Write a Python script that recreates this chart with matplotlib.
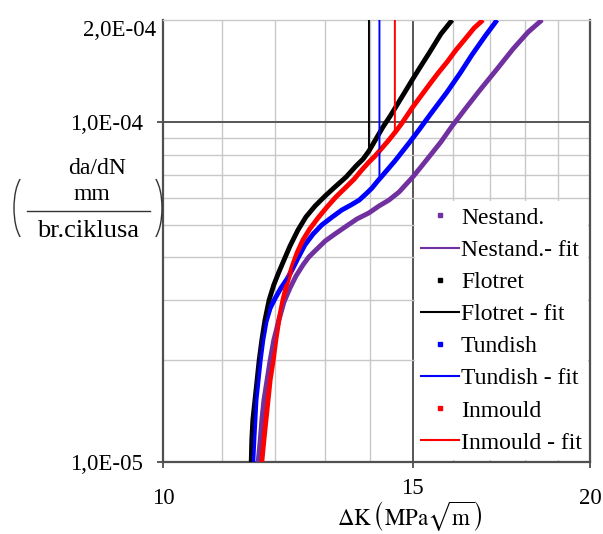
#!/usr/bin/env python3
"""
Fatigue crack growth rate da/dN vs. Delta K for four casting variants,
measured points plus fitted curves (log-log).
"""

import matplotlib
matplotlib.use("Agg")
import matplotlib.pyplot as plt
from matplotlib.lines import Line2D
from matplotlib.patches import Arc
from matplotlib.ticker import NullFormatter

# Measured data (Delta K in MPa*sqrt(m), da/dN in mm/cycle)
nest_k = [11.67, 11.71, 11.74, 11.78, 11.84, 11.90, 11.97, 12.07, 12.17, 12.29,
          12.41, 12.55, 12.67, 12.84, 13.01, 13.22, 13.44, 13.70, 13.97, 14.20,
          14.43, 14.67, 14.91, 15.00, 15.20, 15.42, 15.70, 15.99, 16.35, 16.73,
          17.20, 17.65, 18.09, 18.50]
nest_y = [1.000e-5, 1.161e-5, 1.329e-5, 1.522e-5, 1.743e-5, 1.996e-5, 2.286e-5,
          2.618e-5, 2.958e-5, 3.252e-5, 3.528e-5, 3.800e-5, 4.012e-5, 4.237e-5,
          4.470e-5, 4.690e-5, 4.918e-5, 5.192e-5, 5.410e-5, 5.670e-5, 5.900e-5,
          6.234e-5, 6.714e-5, 6.899e-5, 7.386e-5, 7.960e-5, 8.749e-5, 9.750e-5,
          1.101e-4, 1.245e-4, 1.435e-4, 1.643e-4, 1.844e-4, 2.000e-4]

flot_k = [11.54, 11.55, 11.57, 11.61, 11.65, 11.69, 11.74, 11.80, 11.88, 11.97,
          12.07, 12.17, 12.29, 12.45, 12.61, 12.80, 13.01, 13.22, 13.46, 13.68,
          13.84, 13.97, 14.13, 14.29, 14.46, 14.62, 14.81, 15.00, 15.20, 15.42,
          15.70, 15.99]
flot_y = [1.000e-5, 1.161e-5, 1.329e-5, 1.522e-5, 1.743e-5, 1.996e-5, 2.286e-5,
          2.618e-5, 3.000e-5, 3.320e-5, 3.625e-5, 3.930e-5, 4.324e-5, 4.820e-5,
          5.260e-5, 5.670e-5, 6.067e-5, 6.450e-5, 6.899e-5, 7.436e-5, 7.800e-5,
          8.232e-5, 8.930e-5, 9.680e-5, 1.043e-4, 1.124e-4, 1.228e-4, 1.341e-4,
          1.465e-4, 1.610e-4, 1.819e-4, 2.000e-4]

tund_k = [11.57, 11.59, 11.61, 11.63, 11.67, 11.71, 11.76, 11.82, 11.90, 12.00,
          12.11, 12.23, 12.33, 12.45, 12.59, 12.76, 12.94, 13.16, 13.37, 13.57,
          13.75, 13.90, 14.04, 14.15, 14.27, 14.43, 14.57, 14.74, 14.91, 15.15,
          15.42, 15.63, 15.86, 16.20, 16.51, 16.87, 17.20]
tund_y = [1.000e-5, 1.161e-5, 1.329e-5, 1.522e-5, 1.743e-5, 1.996e-5, 2.286e-5,
          2.583e-5, 2.840e-5, 3.039e-5, 3.252e-5, 3.457e-5, 3.674e-5, 3.985e-5,
          4.353e-5, 4.690e-5, 4.985e-5, 5.260e-5, 5.520e-5, 5.710e-5, 5.900e-5,
          6.150e-5, 6.405e-5, 6.670e-5, 6.946e-5, 7.336e-5, 7.690e-5, 8.177e-5,
          8.690e-5, 9.490e-5, 1.050e-4, 1.132e-4, 1.228e-4, 1.396e-4, 1.578e-4,
          1.794e-4, 2.000e-4]

inmo_k = [11.74, 11.78, 11.82, 11.86, 11.90, 11.96, 12.01, 12.07, 12.15, 12.23,
          12.33, 12.43, 12.55, 12.69, 12.86, 13.05, 13.24, 13.44, 13.64, 13.81,
          13.97, 14.11, 14.27, 14.43, 14.60, 14.74, 15.00, 15.20, 15.42, 15.63,
          15.86, 16.09, 16.33, 16.57, 16.81]
inmo_y = [1.000e-5, 1.161e-5, 1.329e-5, 1.522e-5, 1.743e-5, 1.996e-5, 2.286e-5,
          2.618e-5, 3.000e-5, 3.360e-5, 3.749e-5, 4.123e-5, 4.503e-5, 4.852e-5,
          5.227e-5, 5.630e-5, 6.026e-5, 6.405e-5, 6.806e-5, 7.240e-5, 7.638e-5,
          7.960e-5, 8.400e-5, 8.869e-5, 9.426e-5, 9.950e-5, 1.109e-4, 1.195e-4,
          1.296e-4, 1.396e-4, 1.505e-4, 1.632e-4, 1.758e-4, 1.894e-4, 2.000e-4]

# Fitted curves: follow the data; three of them turn vertical at a critical Delta K
nest_fit_k = [11.67, 11.78, 11.90, 12.07, 12.29, 12.55, 12.84, 13.22, 13.70, 14.20,
              14.67, 15.00, 15.42, 15.99, 16.73, 17.65, 18.50]
nest_fit_y = [1.000e-5, 1.522e-5, 1.996e-5, 2.618e-5, 3.252e-5, 3.800e-5, 4.237e-5,
              4.690e-5, 5.192e-5, 5.670e-5, 6.234e-5, 6.899e-5, 7.960e-5, 9.750e-5,
              1.245e-4, 1.643e-4, 2.000e-4]

flot_fit_k = [11.54, 11.61, 11.69, 11.80, 11.88, 12.07, 12.29, 12.61, 13.01, 13.46,
              13.84, 13.97, 13.97]
flot_fit_y = [1.000e-5, 1.522e-5, 1.996e-5, 2.618e-5, 3.000e-5, 3.625e-5, 4.324e-5,
              5.260e-5, 6.067e-5, 6.899e-5, 7.800e-5, 8.232e-5, 2.000e-4]

tund_fit_k = [11.57, 11.63, 11.71, 11.82, 12.00, 12.23, 12.59, 12.94, 13.37, 13.75,
              14.04, 14.21, 14.21]
tund_fit_y = [1.000e-5, 1.522e-5, 1.996e-5, 2.583e-5, 3.039e-5, 3.457e-5, 4.353e-5,
              4.985e-5, 5.520e-5, 5.900e-5, 6.405e-5, 6.830e-5, 2.000e-4]

inmo_fit_k = [11.74, 11.82, 11.90, 12.01, 12.15, 12.33, 12.55, 12.86, 13.24, 13.64,
              13.97, 14.27, 14.57, 14.57]
inmo_fit_y = [1.000e-5, 1.329e-5, 1.743e-5, 2.286e-5, 3.000e-5, 3.749e-5, 4.503e-5,
              5.227e-5, 6.026e-5, 6.806e-5, 7.638e-5, 8.400e-5, 9.330e-5, 2.000e-4]

series = [
    ("Nestand.", "Nestand.- fit", "#7030A0", nest_k, nest_y, nest_fit_k, nest_fit_y),
    ("Flotret", "Flotret - fit", "#000000", flot_k, flot_y, flot_fit_k, flot_fit_y),
    ("Tundish", "Tundish - fit", "#0000FF", tund_k, tund_y, tund_fit_k, tund_fit_y),
    ("Inmould", "Inmould - fit", "#FF0000", inmo_k, inmo_y, inmo_fit_k, inmo_fit_y),
]

x_ticks = [10, 15, 20]
x_minor = [11, 12, 13, 14, 16, 17, 18, 19]
y_ticks = [1e-5, 1e-4, 2e-4]
y_tick_labels = ["1,0E-05", "1,0E-04", "2,0E-04"]
y_minor = [2e-5, 3e-5, 4e-5, 5e-5, 6e-5, 7e-5, 8e-5, 9e-5]

plt.rcParams["font.family"] = "serif"
plt.rcParams["font.serif"] = ["Liberation Serif", "DejaVu Serif"]
plt.rcParams["mathtext.fontset"] = "stix"

W, H = 603, 534
fig = plt.figure(figsize=(W / 100, H / 100), dpi=100)
ax = fig.add_axes([163 / W, 1 - 462 / H, 427 / W, 442 / H])

ax.set_xscale("log")
ax.set_yscale("log")
ax.set_xlim(10, 20)
ax.set_ylim(1e-5, 2e-4)

# Data as thick dense curves, fits as thin lines
for name, fit_name, color, k, y, fk, fy in series:
    ax.plot(k, y, color=color, lw=3.5, solid_capstyle="butt",
            solid_joinstyle="round", zorder=3)
for name, fit_name, color, k, y, fk, fy in series:
    ax.plot(fk, fy, color=color, lw=1.4, zorder=4)

# Ticks and grid
ax.set_xticks(x_ticks, labels=[str(t) for t in x_ticks])
ax.set_xticks(x_minor, minor=True)
ax.set_yticks(y_ticks, labels=y_tick_labels)
ax.set_yticks(y_minor, minor=True)
ax.xaxis.set_minor_formatter(NullFormatter())
ax.yaxis.set_minor_formatter(NullFormatter())

ax.tick_params(which="major", direction="out", length=4.5, width=1.2,
               color="#404040", labelsize=16.5, pad=10)
ax.tick_params(which="minor", length=0)
ax.tick_params(axis="x", pad=14)

# "15" sits a little higher in the original, top y label hugs the axis
ax.xaxis.get_major_ticks()[1].set_pad(7)
top_tick = ax.yaxis.get_major_ticks()[2]
top_tick.tick1line.set_visible(False)
top_tick.set_pad(0.5)
top_tick.label1.set_va("top")

ax.xaxis.grid(True, which="minor", color="#c8c8c8", lw=1.0)
ax.xaxis.grid(True, which="major", color="#555555", lw=1.4)
ax.yaxis.grid(True, which="minor", color="#c8c8c8", lw=1.0)
ax.yaxis.grid(True, which="major", color="#555555", lw=1.4)
ax.set_axisbelow(True)

for side in ["left", "bottom", "right"]:
    ax.spines[side].set_color("#505050")
    ax.spines[side].set_linewidth(1.6)
ax.spines["top"].set_color("#c8c8c8")
ax.spines["top"].set_linewidth(1.0)

# Legend
handles = []
labels = []
for name, fit_name, color, k, y, fk, fy in series:
    handles.append(Line2D([], [], color=color, marker="s", ms=2.2, ls="none"))
    labels.append(name)
    handles.append(Line2D([], [], color=color, lw=1.5))
    labels.append(fit_name)
leg = ax.legend(handles, labels, loc="lower right", fontsize=17,
                frameon=True, fancybox=False, framealpha=1, edgecolor="none",
                borderaxespad=0.1, borderpad=0.25, labelspacing=0.45,
                handlelength=1.6, handletextpad=0.1)
leg.set_zorder(10)

# X label
ax.set_xlabel(r"$\Delta\mathrm{K}\,\left(\mathrm{MPa}\sqrt{\mathrm{m}}\right)$",
              fontsize=16.5)
ax.xaxis.set_label_coords(0.578, -0.085)

# Y label as stacked fraction in parentheses
fig.text(97 / W, 1 - 168 / H, "da/dN", fontsize=17, ha="center", va="center")
fig.text(92 / W, 1 - 194 / H, "mm", fontsize=17, ha="center", va="center")
fig.text(88 / W, 1 - 231 / H, "br.ciklusa", fontsize=19, ha="center", va="center")
fig.add_artist(Line2D([27 / W, 150 / W], [1 - 211 / H, 1 - 211 / H],
                      transform=fig.transFigure, color="#333333", lw=1.0))
fig.add_artist(Arc((26 / W, 1 - 208 / H), 24 / W, 66 / H, theta1=100, theta2=260,
                   transform=fig.transFigure, color="#333333", lw=1.0))
fig.add_artist(Arc((150 / W, 1 - 208 / H), 24 / W, 66 / H, theta1=-80, theta2=80,
                   transform=fig.transFigure, color="#333333", lw=1.0))

fig.savefig("out.png", dpi=100)
